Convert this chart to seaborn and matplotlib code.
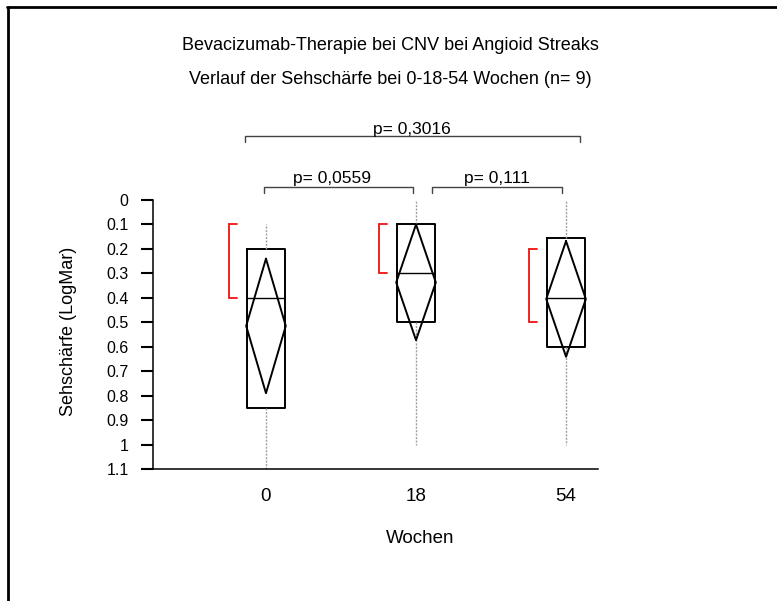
import numpy as np
import pandas as pd
import matplotlib
matplotlib.use("Agg")
import matplotlib.pyplot as plt
import seaborn as sns
from matplotlib.lines import Line2D

# ── data (LogMar visual acuity) ──
weeks = ["0", "18", "54"]
whis_lo = [0.1, 0.0, 0.0]
whis_hi = [1.1, 1.0, 1.0]
q1 = [0.2, 0.1, 0.155]
median = [0.4, 0.3, 0.4]
q3 = [0.85, 0.5, 0.6]
mean = [0.515, 0.337, 0.405]
ci_lo = [0.24, 0.1, 0.168]
ci_hi = [0.79, 0.573, 0.641]
red_lo = [0.1, 0.1, 0.2]
red_hi = [0.4, 0.3, 0.5]

p_labels = ["p= 0,3016", "p= 0,0559", "p= 0,111"]
y_ticks = [0, 0.1, 0.2, 0.3, 0.4, 0.5, 0.6, 0.7, 0.8, 0.9, 1.0, 1.1]
y_ticklabels = ["0", "0.1", "0.2", "0.3", "0.4", "0.5", "0.6", "0.7", "0.8", "0.9", "1", "1.1"]

sns.set_style("white")
plt.rcParams["font.family"] = ["Liberation Sans", "DejaVu Sans"]
plt.rcParams.update({"text.color": "black", "axes.labelcolor": "black",
                     "xtick.color": "black", "ytick.color": "black"})

fig = plt.figure(figsize=(7.77, 6.01), dpi=100)
ax = fig.add_axes([153 / 777, 1 - 469 / 601, 445 / 777, 269 / 601])

pos = np.arange(len(weeks))
stats = [dict(med=median[i], q1=q1[i], q3=q3[i], whislo=whis_lo[i], whishi=whis_hi[i], fliers=[])
         for i in range(len(weeks))]
ax.bxp(stats, positions=pos, widths=0.257, showcaps=False, showfliers=False,
       boxprops=dict(color="black", lw=1.4),
       medianprops=dict(color="black", lw=1.0),
       whiskerprops=dict(color="#a0a0a0", lw=1.0, linestyle=(0, (1.5, 1))))

# mean diamonds with CI
hw = 0.132
rows = []
for i in range(len(weeks)):
    xs = [pos[i], pos[i] + hw, pos[i], pos[i] - hw, pos[i]]
    ys = [ci_lo[i], mean[i], ci_hi[i], mean[i], ci_lo[i]]
    for k, (xx, yy) in enumerate(zip(xs, ys)):
        rows.append(dict(grp=i, order=k, x=xx, y=yy))
dia = pd.DataFrame(rows)
sns.lineplot(data=dia, x="x", y="y", units="grp", estimator=None, sort=False,
             color="black", lw=1.4, ax=ax, legend=False)

# red brackets left of each box
for i in range(len(weeks)):
    bx = pos[i] - 0.246
    ax.plot([bx + 0.05, bx, bx, bx + 0.05], [red_lo[i], red_lo[i], red_hi[i], red_hi[i]],
            color="#ee1111", lw=1.3, solid_joinstyle="miter")

# significance brackets
sig = [(-0.14, 2.09, -0.262, 0.973, -0.268),
       (-0.013, 0.98, -0.052, 0.44, -0.068),
       (1.105, 1.973, -0.052, 1.54, -0.068)]
for (x0, x1, yb, tx, ty), lab in zip(sig, p_labels):
    ax.plot([x0, x0, x1, x1], [yb + 0.024, yb, yb, yb + 0.024], color="#444444", lw=1.0, clip_on=False)
    ax.text(tx, ty, lab, ha="center", va="baseline", fontsize=12.5, clip_on=False)

ax.set_xlim(-0.753, 2.213)
ax.set_ylim(1.1, 0)
ax.set_yticks(y_ticks)
ax.set_yticklabels(y_ticklabels, fontsize=11.5)
ax.set_xticks(pos)
ax.set_xticklabels(weeks, fontsize=13.5)
ax.tick_params(axis="y", length=8.5, width=1.5, pad=9, left=True)
ax.tick_params(axis="x", length=0, pad=14)
for s in ["top", "right"]:
    ax.spines[s].set_visible(False)
ax.spines["left"].set_linewidth(1.1)
ax.spines["bottom"].set_linewidth(1.1)
ax.spines["left"].set_color("black")
ax.spines["bottom"].set_color("black")

ax.set_xlabel("Wochen", fontsize=13.5)
ax.xaxis.set_label_coords(0.6, -0.228)
ax.set_ylabel("Sehschärfe (LogMar)", fontsize=13)
ax.yaxis.set_label_coords(-0.17, 0.51)

fig.text(390 / 777, 1 - 46 / 601, "Bevacizumab-Therapie bei CNV bei Angioid Streaks",
         ha="center", va="center", fontsize=13)
fig.text(390 / 777, 1 - 80 / 601, "Verlauf der Sehschärfe bei 0-18-54 Wochen (n= 9)",
         ha="center", va="center", fontsize=13)

# frame lines (top and left) of the original picture
fig.add_artist(Line2D([7 / 777, 1], [1 - 7 / 601, 1 - 7 / 601], color="black", lw=2, transform=fig.transFigure))
fig.add_artist(Line2D([8 / 777, 8 / 777], [0, 1 - 7 / 601], color="black", lw=2, transform=fig.transFigure))

fig.savefig("out.png", dpi=100)
